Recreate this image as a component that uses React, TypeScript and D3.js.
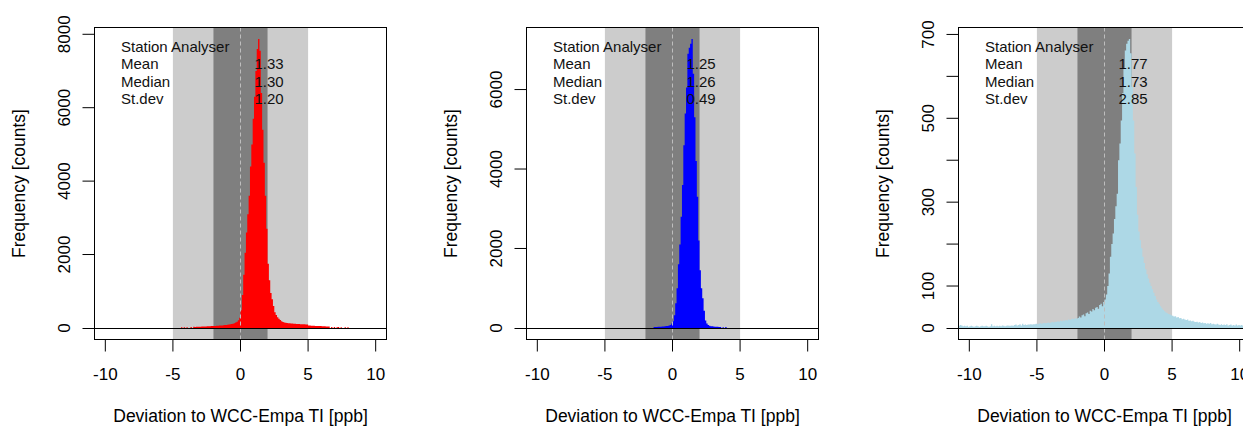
import React from "react";
import * as d3 from "d3";

// ---------- data ----------
const BIN_WIDTH = 0.1;

// Panel 1 (red) counts, bins of 0.1 starting at -4.5
const redStart = -4.5;
const redCounts = [
  0, 20, 0, 22, 0, 18, 0, 0, 25, 0,
  30, 28, 32, 30, 35, 33, 36, 40, 38, 42,
  45, 43, 48, 50, 52, 55, 56, 60, 62, 65,
  68, 70, 74, 78, 82, 88, 94, 100, 108, 116,
  128, 145, 170, 210, 280,
  480, 900, 1450, 2050, 2600, 3100, 3600, 4400, 5000, 5700,
  6300, 7000, 7600, 7870, 7550, 6400, 5400, 4500, 3600, 2700,
  1750, 1300, 950, 780, 600, 430, 350, 290, 250, 215,
  180, 165, 150, 142, 136, 130, 126, 122, 118, 115,
  112, 110, 108, 106, 104, 102, 100, 98, 96, 92,
  70, 65, 62, 60, 58, 56, 55, 54, 52, 50,
  48, 46, 45, 42, 40, 38, 0, 25, 0, 28,
  0, 22, 25, 0, 20, 0, 0, 22, 0, 18,
];

// Panel 2 (blue) counts, bins of 0.1 starting at -1.5
const blueStart = -1.5;
const blueCounts = [
  0, 22, 25, 25, 28, 30, 32, 35, 38, 42,
  46, 52, 60, 75, 110,
  170, 320, 620, 1000, 1600, 2100, 2800, 3600, 4600, 5400,
  6050, 6900, 7050, 7150, 7271, 6400, 5300, 4200, 3300, 2200,
  1450, 1000, 750, 430, 190, 110, 75, 55, 45, 40,
  35, 32, 30, 28, 25, 22, 0, 20, 0, 25,
];

// Panel 3 (light blue) counts, bins of 0.1 starting at -10.8
const lightStart = -10.8;
const lightCounts = [
  5, 7, 6, 4, 5, 4, 5, 3, 4, 5,
  4, 3, 4, 5, 4, 3, 4, 5, 4, 4,
  5, 4, 3, 4, 9, 4, 5, 4, 5, 4,
  5, 4, 6, 5, 4, 5, 6, 5, 5, 6,
  5, 7, 8, 6, 7, 9, 6, 10, 7, 8,
  7, 8, 8, 9, 8, 9, 9, 10,
  9, 10, 11, 10, 11, 12, 11, 12, 13, 12,
  13, 14, 13, 15, 14, 16, 15, 17, 16, 18,
  17, 19, 18, 20, 19, 21, 22, 21, 23, 22,
  24, 27, 25, 30, 32, 28, 35, 37, 33, 41,
  39, 45, 42, 48, 50, 46, 55, 58, 52, 62,
  68, 80, 100, 130, 170, 200, 225, 260, 290, 320,
  400, 440, 495, 560, 620, 662, 678, 685, 689, 655,
  575, 495, 416, 336, 270, 230, 209, 190, 170, 155,
  140, 128, 118, 108, 100, 92, 84, 76, 68, 62,
  58, 52, 47, 43, 40, 37, 35, 33, 32, 30,
  29, 27, 28, 25, 26, 23, 24, 21, 22, 20,
  19, 20, 17, 18, 16, 17, 15, 14, 15, 13,
  14, 12, 13, 11, 12, 10, 11, 10, 12, 9,
  10, 9, 8, 10, 8, 7, 9, 7, 8, 7,
  9, 6, 7, 8, 6, 7, 6, 8, 6, 7,
  6, 7, 5, 6, 7, 5, 6, 5,
];

const xTicks = [-10, -5, 0, 5, 10];
const yTicksRed = [0, 2000, 4000, 6000, 8000];
const yTicksBlue = [0, 2000, 4000, 6000];
const yTicksLight = [0, 100, 200, 300, 400, 500, 600, 700];
const yLabelsLight = [0, 100, 300, 500, 700];

const statTitle = "Station Analyser";
const statLabels = ["Mean", "Median", "St.dev"];
const redStats = ["1.33", "1.30", "1.20"];
const blueStats = ["1.25", "1.26", "0.49"];
const lightStats = ["1.77", "1.73", "2.85"];

const outerBand = [-5, 5];
const innerBand = [-2, 2];
const xDomain = [-10.8, 10.8];

const xTitle = "Deviation to WCC-Empa TI [ppb]";
const yTitle = "Frequency [counts]";

// ---------- layout ----------
const W = 1243;
const H = 426;
const FONT = "'Liberation Sans', Arial, sans-serif";
const PANEL_STEP = 432;
const BOX_LEFT0 = 94.5;
const BOX_W = 292;
const TOP = 27.5;
const BOTTOM = 339.5;

const panels = [
  { start: redStart, counts: redCounts, color: "#ff0000", ticks: yTicksRed, labels: yTicksRed, stats: redStats },
  { start: blueStart, counts: blueCounts, color: "#0000ff", ticks: yTicksBlue, labels: yTicksBlue, stats: blueStats },
  { start: lightStart, counts: lightCounts, color: "#add8e6", ticks: yTicksLight, labels: yLabelsLight, stats: lightStats },
];

function Panel({ p, i }: { p: (typeof panels)[number]; i: number }) {
  const left = BOX_LEFT0 + i * PANEL_STEP;
  const right = left + BOX_W;
  const x = d3.scaleLinear().domain(xDomain).range([left, right]);
  const M = d3.max(p.counts) as number;
  const y = d3.scaleLinear().domain([-0.04 * M, 1.04 * M]).range([BOTTOM, TOP]);
  const bins = p.counts.map((c, k) => ({ x0: Math.round(p.start * 10 + k) / 10, c }));
  const last = bins[bins.length - 1];
  const pts = [...bins, { x0: Math.round((last.x0 + BIN_WIDTH) * 10) / 10, c: 0 }];
  const area = d3
    .area<{ x0: number; c: number }>()
    .x((d) => x(d.x0))
    .y0(y(0))
    .y1((d) => y(d.c))
    .curve(d3.curveStepAfter);
  const cx = (left + right) / 2;
  const cy = (TOP + BOTTOM) / 2;
  const zeroY = Math.round(y(0)) + 0.5;
  return (
    <g>
      {/* bands */}
      <rect x={x(outerBand[0])} y={TOP} width={x(outerBand[1]) - x(outerBand[0])} height={BOTTOM - TOP} fill="#cccccc" />
      <rect x={x(innerBand[0])} y={TOP} width={x(innerBand[1]) - x(innerBand[0])} height={BOTTOM - TOP} fill="#7f7f7f" />
      {/* histogram */}
      <path d={area(pts) || ""} fill={p.color} stroke="none" />
      {/* dashed zero line */}
      <line x1={x(0)} x2={x(0)} y1={TOP} y2={BOTTOM} stroke="#bebebe" strokeWidth={1} strokeDasharray="4,3" />
      {/* horizontal zero line */}
      <line x1={left} x2={right} y1={zeroY} y2={zeroY} stroke="#000" strokeWidth={1} />
      {/* stats text */}
      <g fontFamily={FONT} fontSize={15} fill="#111">
        <text x={left + 26.5} y={52}>{statTitle}</text>
        {statLabels.map((s, k) => (
          <text key={s} x={left + 26.5} y={69.3 + k * 17.2}>{s}</text>
        ))}
        {p.stats.map((s, k) => (
          <text key={k} x={left + 160} y={69.3 + k * 17.2}>{s}</text>
        ))}
      </g>
      {/* box */}
      <rect x={left} y={TOP} width={BOX_W} height={BOTTOM - TOP} fill="none" stroke="#000" strokeWidth={1} />
      {/* x axis */}
      <g fontFamily={FONT} fontSize={17} fill="#000">
        {xTicks.map((t) => (
          <g key={t}>
            <line x1={x(t)} x2={x(t)} y1={BOTTOM} y2={BOTTOM + 12} stroke="#000" />
            <text x={x(t)} y={380} textAnchor="middle">{t}</text>
          </g>
        ))}
        <text x={cx} y={421.5} textAnchor="middle" fontSize={17.5}>{xTitle}</text>
      </g>
      {/* y axis */}
      <g fontFamily={FONT} fontSize={17} fill="#000">
        {p.ticks.map((t) => {
          const ty = t === 0 ? zeroY : y(t);
          return <line key={t} x1={left - 12} x2={left} y1={ty} y2={ty} stroke="#000" />;
        })}
        {p.labels.map((t) => (
          <text key={t} transform={`translate(${left - 24.5},${y(t)}) rotate(-90)`} textAnchor="middle">{t}</text>
        ))}
        <text transform={`translate(${left - 69.5},${cy}) rotate(-90)`} textAnchor="middle" fontSize={17.5}>{yTitle}</text>
      </g>
    </g>
  );
}

export default function App() {
  return (
    <svg
      width={W}
      height={H}
      viewBox={`0 0 ${W} ${H}`}
      style={{ position: "absolute", left: 0, top: 0, background: "#fff" }}
    >
      <rect x={0} y={0} width={W} height={H} fill="#fff" />
      {panels.map((p, i) => (
        <Panel key={i} p={p} i={i} />
      ))}
    </svg>
  );
}
